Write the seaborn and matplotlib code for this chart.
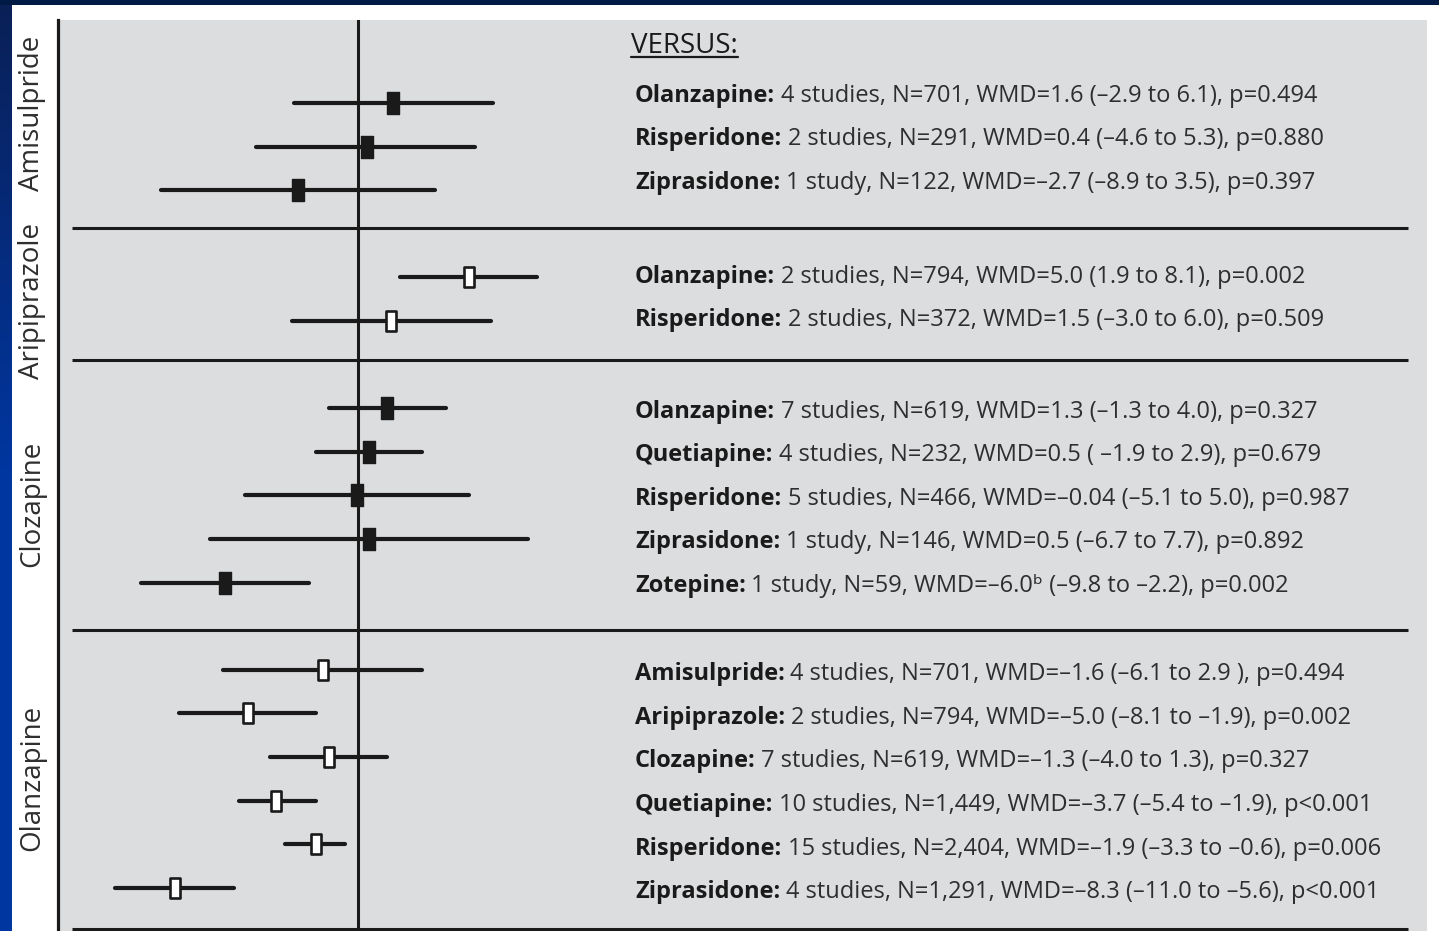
import numpy as np
import pandas as pd
import matplotlib
matplotlib.use("Agg")
import matplotlib.pyplot as plt
import seaborn as sns
from matplotlib.path import Path
from matplotlib.lines import Line2D
from matplotlib.colors import LinearSegmentedColormap

# ---------------- data ----------------
groups = ["Amisulpride", "Aripiprazole", "Clozapine", "Olanzapine"]
row_group = ["Amisulpride"] * 3 + ["Aripiprazole"] * 2 + ["Clozapine"] * 5 + ["Olanzapine"] * 6
comparators = ["Olanzapine", "Risperidone", "Ziprasidone",
               "Olanzapine", "Risperidone",
               "Olanzapine", "Quetiapine", "Risperidone", "Ziprasidone", "Zotepine",
               "Amisulpride", "Aripiprazole", "Clozapine", "Quetiapine", "Risperidone", "Ziprasidone"]
wmd = [1.6, 0.4, -2.7,
       5.0, 1.5,
       1.3, 0.5, -0.04, 0.5, -6.0,
       -1.6, -5.0, -1.3, -3.7, -1.9, -8.3]
ci_low = [-2.9, -4.6, -8.9,
          1.9, -3.0,
          -1.3, -1.9, -5.1, -6.7, -9.8,
          -6.1, -8.1, -4.0, -5.4, -3.3, -11.0]
ci_high = [6.1, 5.3, 3.5,
           8.1, 6.0,
           4.0, 2.9, 5.0, 7.7, -2.2,
           2.9, -1.9, 1.3, -1.9, -0.6, -5.6]
details = [
    "4 studies, N=701, WMD=1.6 (–2.9 to 6.1), p=0.494",
    "2 studies, N=291, WMD=0.4 (–4.6 to 5.3), p=0.880",
    "1 study, N=122, WMD=–2.7 (–8.9 to 3.5), p=0.397",
    "2 studies, N=794, WMD=5.0 (1.9 to 8.1), p=0.002",
    "2 studies, N=372, WMD=1.5 (–3.0 to 6.0), p=0.509",
    "7 studies, N=619, WMD=1.3 (–1.3 to 4.0), p=0.327",
    "4 studies, N=232, WMD=0.5 ( –1.9 to 2.9), p=0.679",
    "5 studies, N=466, WMD=–0.04 (–5.1 to 5.0), p=0.987",
    "1 study, N=146, WMD=0.5 (–6.7 to 7.7), p=0.892",
    "1 study, N=59, WMD=–6.0ᵇ (–9.8 to –2.2), p=0.002",
    "4 studies, N=701, WMD=–1.6 (–6.1 to 2.9 ), p=0.494",
    "2 studies, N=794, WMD=–5.0 (–8.1 to –1.9), p=0.002",
    "7 studies, N=619, WMD=–1.3 (–4.0 to 1.3), p=0.327",
    "10 studies, N=1,449, WMD=–3.7 (–5.4 to –1.9), p<0.001",
    "15 studies, N=2,404, WMD=–1.9 (–3.3 to –0.6), p=0.006",
    "4 studies, N=1,291, WMD=–8.3 (–11.0 to –5.6), p<0.001",
]
open_groups = ["Aripiprazole", "Olanzapine"]
header = "VERSUS:"

# ---------------- layout ----------------
W, H = 1439, 931
PANEL = "#dcdddf"
INK = "#1a1a1a"
TXT = "#2e2e2e"

sns.set_theme(style="white")
plt.rcParams["font.family"] = ["Open Sans", "DejaVu Sans"]

df = pd.DataFrame({"group": row_group, "comp": comparators, "wmd": wmd,
                   "lo": ci_low, "hi": ci_high, "detail": details})
gidx = df["group"].map({g: i for i, g in enumerate(groups)})
df["row"] = np.arange(len(df)) + gidx  # one blank row between groups
df["style"] = np.where(df["group"].isin(open_groups), "open", "filled")

fig = plt.figure(figsize=(W / 100, H / 100), dpi=100, facecolor="white")

def fx(px): return px / W
def fy(py): return 1 - py / H

ax_left, ax_right, ax_top = 58, 1427, 20
ax = fig.add_axes([fx(ax_left), 0, fx(ax_right) - fx(ax_left), fy(ax_top)])
ax.set_facecolor(PANEL)

ROW0, ROWH = 103, 43.6
PXU = 22.1  # pixels per WMD unit
ZERO = 358
ax.set_xlim((ax_left - ZERO) / PXU, (ax_right - ZERO) / PXU)
ax.set_ylim((H - ROW0) / ROWH, (ax_top - ROW0) / ROWH)

for s in ["top", "right", "bottom"]:
    ax.spines[s].set_visible(False)
ax.spines["left"].set_linewidth(2.3)
ax.spines["left"].set_color(INK)
ax.set_xticks([]); ax.set_yticks([])

# zero line
ax.axvline(0, color=INK, lw=2.2, zorder=2)

# separators between groups (and bottom)
sx0 = (72 - ax_left) / (ax_right - ax_left)
sx1 = (1408 - ax_left) / (ax_right - ax_left)
for yy in [2.87, 5.89, 12.09, 18.94]:
    ax.plot([sx0, sx1], [yy, yy], transform=ax.get_yaxis_transform(), color=INK, lw=2.2,
            clip_on=False, zorder=2, solid_capstyle="butt")

# confidence intervals
ax.hlines(df["row"], df["lo"], df["hi"], color=INK, lw=3.0, zorder=3, capstyle="round")

# markers (tall rectangles)
rect = Path([(-0.28, -0.5), (0.28, -0.5), (0.28, 0.5), (-0.28, 0.5), (-0.28, -0.5)],
            [Path.MOVETO, Path.LINETO, Path.LINETO, Path.LINETO, Path.CLOSEPOLY])
filled = df[df["style"] == "filled"]
opened = df[df["style"] == "open"]
sns.scatterplot(data=filled, x="wmd", y="row", marker=rect, s=250, color=INK,
                edgecolor=INK, linewidth=1.0, ax=ax, zorder=4, legend=False)
sns.scatterplot(data=opened, x="wmd", y="row", marker=rect, s=200, color="white",
                edgecolor=INK, linewidth=1.9, ax=ax, zorder=4, legend=False)
ax.set_xlabel(""); ax.set_ylabel("")

# text rows
FS = 17
text_shift = {"Amisulpride": -0.17, "Aripiprazole": -0.02, "Clozapine": 0.08, "Olanzapine": 0.1}
tx = (635 - ax_left) / (ax_right - ax_left)
for _, r in df.iterrows():
    yy = r["row"] + text_shift[r["group"]]
    t = ax.text(tx, yy, r["comp"] + ":", transform=ax.get_yaxis_transform(),
                fontsize=FS, fontweight="bold", color=INK, va="center", ha="left", zorder=5)
    ax.annotate(r["detail"], xy=(1, 0), xycoords=t, xytext=(4, 0),
                textcoords="offset points", fontsize=FS, color=TXT,
                va="bottom", ha="left", zorder=5)

# header
hx = (631 - ax_left) / (ax_right - ax_left)
hy = (46 - ROW0) / ROWH
ht = ax.text(hx, hy, header, transform=ax.get_yaxis_transform(), fontsize=20,
             color=INK, va="center", ha="left", zorder=5)

# group labels
label_shift = {"Amisulpride": -33, "Aripiprazole": 2, "Clozapine": 8, "Olanzapine": -1}
for g in groups:
    rows = df.loc[df["group"] == g, "row"]
    yc = ROW0 + ROWH * (rows.min() + rows.max()) / 2 + label_shift[g]
    fig.text(fx(32), fy(yc), g, rotation=90, fontsize=20, color=TXT,
             ha="center", va="center")

# decorative frame strips
top = fig.add_axes([0, fy(5), 1, fy(0) - fy(5)])
top.set_facecolor("#001a46"); top.set_xticks([]); top.set_yticks([])
for s in top.spines.values(): s.set_visible(False)
left = fig.add_axes([0, 0, fx(12), fy(5)])
cmap = LinearSegmentedColormap.from_list("b", ["#0a2057", "#0036a0", "#0036a0"])
left.imshow(np.linspace(0, 1, 256)[:, None], aspect="auto", cmap=cmap)
left.set_xticks([]); left.set_yticks([])
for s in left.spines.values(): s.set_visible(False)

# underline for header
fig.canvas.draw()
bb = ht.get_window_extent(fig.canvas.get_renderer())
inv = fig.transFigure.inverted()
(x0, y0), (x1, _) = inv.transform([(bb.x0, bb.y0), (bb.x1, bb.y0)])
fig.add_artist(Line2D([x0, x1], [y0 + 0.003, y0 + 0.003], transform=fig.transFigure,
                      color=INK, lw=1.6))

fig.savefig("out.png", dpi=100, facecolor="white")
